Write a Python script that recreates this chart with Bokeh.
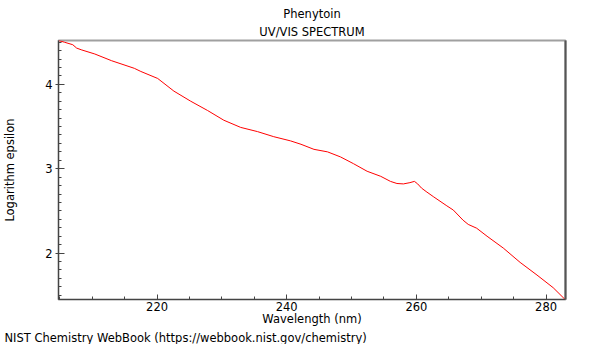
from bokeh.plotting import figure
from bokeh.models import Range1d, SingleIntervalTicker, FixedTicker, LinearAxis, Title
from bokeh.embed import file_html
from bokeh.resources import INLINE

# Data (wavelength in nm, log epsilon)
wavelength = [204.8, 205.7, 207.0, 207.6, 208.3, 210.4, 213.0, 216.5, 217.5, 220.1,
              222.6, 225.2, 227.8, 230.3, 232.9, 235.5, 238.0, 240.6, 242.2, 244.2,
              246.3, 248.3, 250.3, 252.4, 254.5, 256.0, 257.0, 258.0, 259.0, 259.7,
              260.2, 260.8, 261.5, 262.6, 264.7, 265.7, 267.2, 268.0, 269.3, 270.9,
              273.4, 276.0, 278.6, 281.1, 283.0]
log_epsilon = [4.52, 4.50, 4.47, 4.43, 4.41, 4.36, 4.28, 4.19, 4.153, 4.07,
               3.92, 3.80, 3.69, 3.575, 3.49, 3.44, 3.38, 3.33, 3.29, 3.23,
               3.20, 3.14, 3.06, 2.97, 2.91, 2.85, 2.825, 2.82, 2.835, 2.85,
               2.82, 2.77, 2.73, 2.67, 2.56, 2.51, 2.39, 2.34, 2.295, 2.20,
               2.06, 1.89, 1.74, 1.59, 1.445]

title_lines = ["Phenytoin", "UV/VIS SPECTRUM"]
x_label = "Wavelength (nm)"
y_label = "Logarithm epsilon"
footer = "NIST Chemistry WebBook (https://webbook.nist.gov/chemistry)"

FONT = "DejaVu Sans"
FS = "11.5px"

p = figure(width=584, height=344, output_backend="svg", toolbar_location=None,
           x_range=Range1d(204.8, 283.0), y_range=Range1d(1.45, 4.52),
           min_border_left=57, min_border_right=19, min_border_top=40, min_border_bottom=40)
p.title = None
p.grid.visible = False
p.background_fill_color = "white"
p.border_fill_color = "white"
p.outline_line_color = "#a0a0a0"
p.outline_line_width = 2

p.line(wavelength, log_epsilon, line_color="red", line_width=1)

# Axes
xa = p.xaxis[0]
xa.ticker = SingleIntervalTicker(interval=20, num_minor_ticks=4)
xa.axis_label = x_label
xa.major_tick_in = 5
xa.major_tick_out = 0
xa.minor_tick_in = 3
xa.minor_tick_out = 0
xa.major_label_standoff = 2
xa.axis_label_standoff = -2

ya = p.yaxis[0]
ya.ticker = SingleIntervalTicker(interval=1, num_minor_ticks=10)
ya.axis_label = y_label
ya.major_tick_in = 6
ya.major_tick_out = 3
ya.minor_tick_in = 3
ya.minor_tick_out = 0
ya.major_label_standoff = 3
ya.axis_label_standoff = 25

for ax in (xa, ya):
    ax.axis_line_color = "#444444"
    ax.major_tick_line_color = "#444444"
    ax.minor_tick_line_color = "#444444"
    ax.major_label_text_font = FONT
    ax.major_label_text_font_size = FS
    ax.major_label_text_color = "black"
    ax.axis_label_text_font = FONT
    ax.axis_label_text_font_size = FS
    ax.axis_label_text_font_style = "normal"
    ax.axis_label_text_color = "black"

right = LinearAxis(ticker=FixedTicker(ticks=[]), major_tick_line_color=None,
                   minor_tick_line_color=None, axis_line_color="#555555",
                   axis_line_width=2, major_label_standoff=0)
p.add_layout(right, "right")

# Titles (first added is closest to the frame)
p.add_layout(Title(text=title_lines[1], align="center", text_font=FONT,
                   text_font_size=FS, text_font_style="normal",
                   text_color="black", standoff=4), "above")
p.add_layout(Title(text=title_lines[0], align="center", text_font=FONT,
                   text_font_size=FS, text_font_style="normal",
                   text_color="black", standoff=0), "above")

# Footer credit below the axis label, shifted to the left edge
p.add_layout(Title(text=footer, align="left", offset=-54, text_font=FONT,
                   text_font_size=FS, text_font_style="normal",
                   text_color="black", standoff=0), "below")

open("out.html", "w").write(file_html(p, INLINE))
